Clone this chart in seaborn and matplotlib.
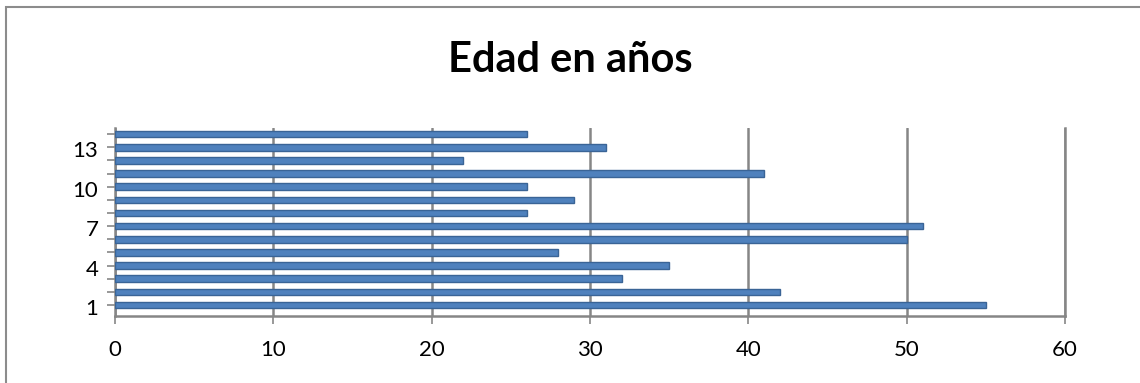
import matplotlib
matplotlib.use("Agg")
import matplotlib.pyplot as plt
import matplotlib.transforms as mtransforms
import seaborn as sns
import pandas as pd
from matplotlib.patches import Rectangle

categories = list(range(1, 15))
edades = [55, 42, 32, 35, 28, 50, 51, 26, 29, 26, 41, 22, 31, 26]
title = "Edad en años"
y_tick_labels = [1, 4, 7, 10, 13]
x_ticks = [0, 10, 20, 30, 40, 50, 60]

sns.set_theme(style="white")
plt.rcParams['font.family'] = ['Lato', 'DejaVu Sans']

df = pd.DataFrame({"cat": categories, "edad": edades})

fig = plt.figure(figsize=(11.4, 3.83), dpi=100)
ax = fig.add_axes([115/1140, 1-315.5/383, (1065-115)/1140, (315.5-127.5)/383])

sns.barplot(data=df, x="edad", y="cat", orient="h", native_scale=True,
            color="#4F81BD", saturation=1, width=0.5,
            edgecolor="#3A6496", linewidth=1.0, ax=ax, zorder=3)

ax.set_xlim(0, 60)
ax.set_ylim(0.2, 14.5)
ax.set_xticks(x_ticks)
ax.set_xticklabels([str(t) for t in x_ticks], fontsize=16, color="black")
ax.set_yticks(categories)
ax.set_yticklabels([str(c) if c in y_tick_labels else "" for c in categories],
                   fontsize=16, color="black", va="center")
ax.set_xlabel("")
ax.set_ylabel("")
ax.grid(axis="x", color="#868686", linewidth=1.8, zorder=0)
ax.grid(axis="y", visible=False)
ax.spines["top"].set_visible(False)
for s in ["left", "bottom", "right"]:
    ax.spines[s].set_visible(True)
    ax.spines[s].set_color("#868686")
    ax.spines[s].set_linewidth(1.8)
ax.tick_params(axis="y", length=6, width=1.2, color="#868686", pad=6, left=True, right=False)
ax.tick_params(axis="x", length=6, width=1.2, color="#868686", pad=12, bottom=True)

offset = mtransforms.ScaledTranslation(0, -4/100, fig.dpi_scale_trans)
for lbl in ax.get_yticklabels():
    lbl.set_transform(lbl.get_transform() + offset)

fig.text(0.5, 1-60/383, title, ha="center", va="center", fontsize=30,
         fontweight="bold", color="black")

fig.patches.append(Rectangle((6/1140, -0.1), 1.2, 1-7/383+0.1, transform=fig.transFigure,
                             fill=False, edgecolor="#8C8C8C", linewidth=1.5, zorder=-1))

fig.savefig("out.png", dpi=100, facecolor="white")
